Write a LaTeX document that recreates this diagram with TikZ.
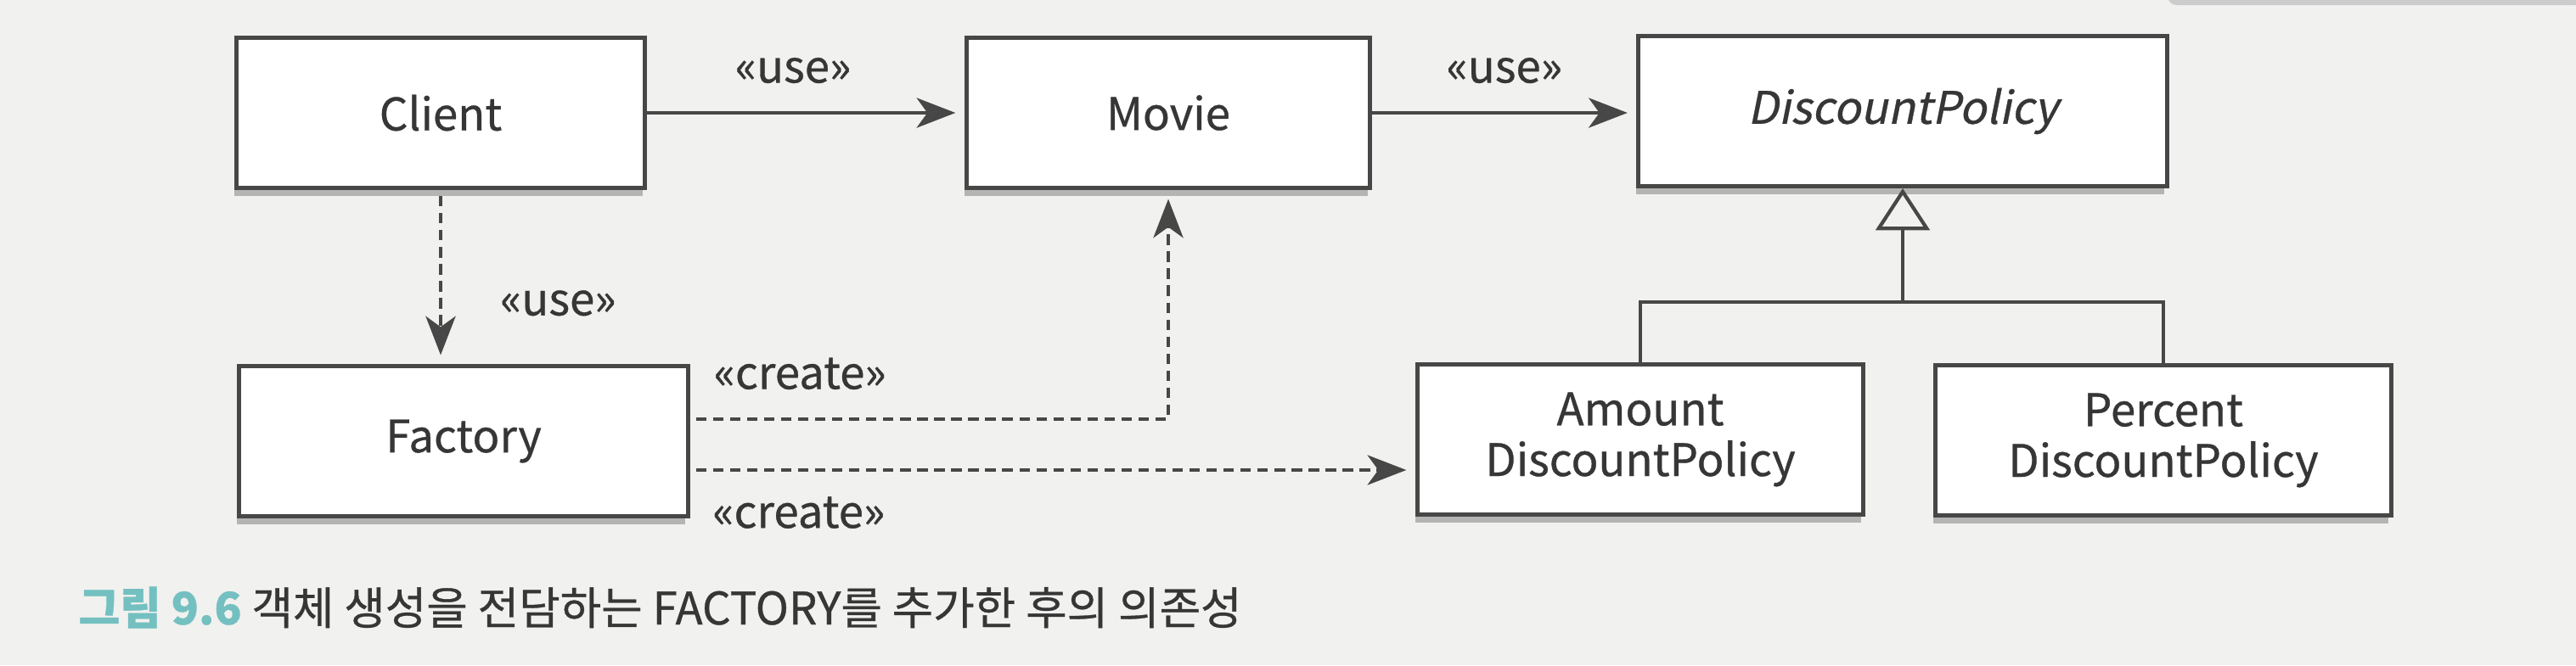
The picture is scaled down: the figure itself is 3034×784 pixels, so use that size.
\documentclass[tikz,border=0pt]{standalone}
\usepackage{fontspec}
\setmainfont{Noto Sans CJK KR}[AutoFakeSlant=0.2,FakeBold=0.6]
\usetikzlibrary{arrows.meta,shadows}
\definecolor{linegray}{HTML}{474747}
\definecolor{textgray}{HTML}{363636}
\definecolor{paper}{HTML}{F1F1EF}
\definecolor{capteal}{HTML}{74C0C1}

\begin{document}
\begin{tikzpicture}[x=0.01cm,y=-0.01cm,
        box/.style={draw=linegray,line width=1.4pt,fill=white,minimum height=1.77cm,align=center,
            text=textgray,font=\fontsize{15}{17}\selectfont,
            drop shadow={shadow xshift=-0.8pt,shadow yshift=-2.6pt,opacity=0.25,fill=black}},
        lbl/.style={text=textgray,font=\fontsize{15}{17}\selectfont},
        uses/.style={draw=linegray,line width=1.2pt,shorten >=3pt,-{Stealth[length=13pt,width=10pt,inset=3.6pt]}},
        makes/.style={uses,shorten <=2pt,dash pattern=on 3.5pt off 2.2pt}]
        \useasboundingbox (0,0) rectangle (3034,784);
        \clip (0,0) rectangle (3034,784);
        \fill[paper] (0,0) rectangle (3034,784);
        \fill[gray!40,rounded corners=3pt] (2553,-10) rectangle (3044,6);
        \node[box,minimum width=4.81cm] (client) at (519,133) {Client};
        \node[box,minimum width=4.75cm] (movie) at (1376,133) {Movie};
        \node[box,minimum width=6.22cm] (dp) at (2241,131) {\itshape DiscountPolicy};
        \node[box,minimum width=5.28cm] (factory) at (546,520) {Factory};
        \node[box,minimum width=5.25cm] (amount) at (1932,518) {Amount\\DiscountPolicy};
        \node[box,minimum width=5.36cm] (percent) at (2548,519) {Percent\\DiscountPolicy};
        \draw[uses] (client) -- node[lbl,above=6pt,pos=0.46] (use1) {«use»} (movie);
        \draw[uses] (movie) -- node[lbl,above=6pt] (use2) {«use»} (movie -| dp.west);
        \draw[makes] (client) -- node[lbl,right=16pt,pos=0.65] (use3) {«use»} (client |- factory.north);
        \coordinate (f1) at ([yshift=0.26cm]factory.east);
        \coordinate (f2) at ([yshift=-0.34cm]factory.east);
        \draw[makes] (f1) -- node[lbl,above=6pt,pos=0.23] (create1) {«create»} (f1 -| movie.south) -- (movie.south);
        \draw[makes] (f2) -- node[lbl,below=5pt,pos=0.15] (create2) {«create»} (f2 -| amount.west);
        \coordinate (split) at ([yshift=-1.34cm]dp.south);
        \draw[linegray,line width=1.2pt] (amount.north) |- (split) -| (percent.north);
        \draw[linegray,line width=1.2pt,-{Triangle[open,length=14pt,width=18pt]}] (split) -- (dp.south);
        \node[anchor=west,inner sep=0pt,text=textgray,font=\fontsize{15}{17}\selectfont] (caption) at (92,716)
            {{\color{capteal}\bfseries 그림 9.6}\ 객체 생성을 전담하는 FACTORY를 추가한 후의 의존성};
\end{tikzpicture}
\end{document}
